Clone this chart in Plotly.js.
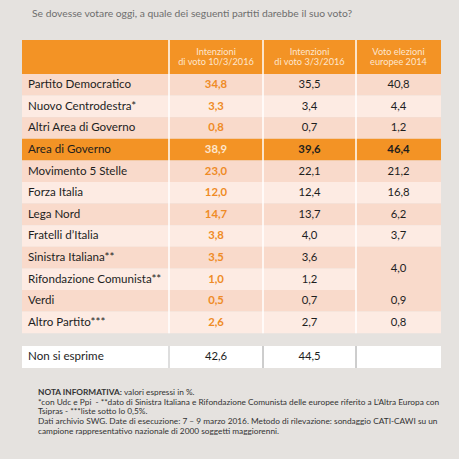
<!DOCTYPE html>
<html>
<head>
<meta charset="utf-8">
<script src="https://cdn.plot.ly/plotly-3.0.1.min.js"></script>
<style>html,body{margin:0;padding:0;background:#e5e2df;}#chart{width:459px;height:459px;}</style>
</head>
<body>
<div id="chart"></div>
<script>
// ---- data ----
const questionTitle = 'Se dovesse votare oggi, a quale dei seguenti partiti darebbe il suo voto?';
const columnHeaders = ['Intenzioni<br>di voto 10/3/2016', 'Intenzioni<br>di voto 3/3/2016', 'Voto elezioni<br>europee 2014'];
const parties = ['Partito Democratico', 'Nuovo Centrodestra*', 'Altri Area di Governo', 'Area di Governo',
  'Movimento 5 Stelle', 'Forza Italia', 'Lega Nord', 'Fratelli d\u2019Italia', 'Sinistra Italiana**',
  'Rifondazione Comunista**', 'Verdi', 'Altro Partito***'];
const vote_10_3_2016 = [34.8, 3.3, 0.8, 38.9, 23.0, 12.0, 14.7, 3.8, 3.5, 1.0, 0.5, 2.6];
const vote_3_3_2016 = [35.5, 3.4, 0.7, 39.6, 22.1, 12.4, 13.7, 4.0, 3.6, 1.2, 0.7, 2.7];
const europee_2014 = [40.8, 4.4, 1.2, 46.4, 21.2, 16.8, 6.2, 3.7, 4.0, null, 0.9, 0.8]; // 4,0 shared by rows 8-9
const europee_merged_rows = [8, 9];
const highlightRow = 3;
const undecidedLabel = 'Non si esprime';
const undecidedValues = [42.6, 44.5, null];
const footnoteLines = [
  '<b>NOTA INFORMATIVA:</b> valori espressi in %.',
  '*con Udc e Ppi  - **dato di Sinistra Italiana e Rifondazione Comunista delle europee riferito a L\u2019Altra Europa con',
  'Tsipras - ***liste sotto lo 0,5%.',
  'Dati archivio SWG. Date di esecuzione: 7 \u2013 9 marzo 2016. Metodo di rilevazione: sondaggio CATI-CAWI su un',
  'campione rappresentativo nazionale di 2000 soggetti maggiorenni.'
];

// ---- layout geometry & styles ----
const G = {colEdges: [22, 169, 263, 356, 441], headTop: 40, headBot: 74, rowH: 21.6,
  nsTop: 346, nsBot: 368, labelX: 28, footX: 36, footY0: 392, footDy: 9.7};
const C = {bg: '#e5e2df', orange: '#f39325', orangeText: '#ef8b26', dark: '#f9dacb', light: '#fdebe3',
  headText: '#fde6cf', text: '#1e1e1e', sep: '#ffffff'};
const FONT = 'Lato, "Open Sans", sans-serif';
const LABEL_SIZE = 11.6, VALUE_SIZE = 11.3;
const fmt = v => (v === null || v === undefined) ? '' : v.toFixed(1).replace('.', ',');

const shapes = [];
const rect = (x0, x1, y0, y1, color) => shapes.push({type: 'rect', xref: 'x', yref: 'y',
  x0, x1, y0, y1, fillcolor: color, line: {width: 0}, layer: 'below'});
const vline = (x, y0, y1, color, w) => shapes.push({type: 'line', xref: 'x', yref: 'y', x0: x, x1: x, y0, y1,
  line: {color, width: w}, layer: 'below'});

const L = G.colEdges[0], R = G.colEdges[4];
rect(L, R, G.headTop, G.headBot, C.orange);
const rowTop = i => G.headBot + i * G.rowH;
const rowMid = i => rowTop(i) + G.rowH / 2 + 0.5;
const rowFill = i => i === highlightRow ? C.orange : ((i === 0 || i === 2 || i === 4 || i === 6 || i === 8 || i === 10) ? C.dark : C.light);
parties.forEach((p, i) => {
  rect(L, G.colEdges[3], rowTop(i), rowTop(i) + G.rowH, rowFill(i));
  if (i === europee_merged_rows[1]) return;
  const span = i === europee_merged_rows[0] ? europee_merged_rows.length : 1;
  rect(G.colEdges[3], R, rowTop(i), rowTop(i) + span * G.rowH, rowFill(i));
});
const bodyBot = rowTop(parties.length);
for (let k = 1; k < 4; k++) vline(G.colEdges[k], G.headTop, bodyBot, C.sep, 1.5);
rect(L, R, G.nsTop, G.nsBot, '#ffffff');
for (let k = 2; k < 4; k++) vline(G.colEdges[k], G.nsTop, G.nsBot, '#9c9c9c', 1);
vline(G.colEdges[1], G.nsTop, G.nsBot, '#bdbdbd', 1);

const colMid = k => (G.colEdges[k] + G.colEdges[k + 1]) / 2;
const traces = [];
traces.push({type: 'scatter', mode: 'text', x: parties.map(() => G.labelX), y: parties.map((p, i) => rowMid(i)),
  text: parties, textposition: 'middle right', hoverinfo: 'skip',
  textfont: {family: FONT, size: LABEL_SIZE, color: C.text}});
traces.push({type: 'scatter', mode: 'text', x: vote_10_3_2016.map(() => colMid(1)), y: vote_10_3_2016.map((v, i) => rowMid(i)),
  text: vote_10_3_2016.map(v => '<b>' + fmt(v) + '</b>'), textposition: 'middle center', hoverinfo: 'skip',
  textfont: {family: FONT, size: VALUE_SIZE, color: vote_10_3_2016.map((v, i) => i === highlightRow ? C.headText : C.orangeText)}});
traces.push({type: 'scatter', mode: 'text', x: vote_3_3_2016.map(() => colMid(2)), y: vote_3_3_2016.map((v, i) => rowMid(i)),
  text: vote_3_3_2016.map((v, i) => i === highlightRow ? '<b>' + fmt(v) + '</b>' : fmt(v)), textposition: 'middle center', hoverinfo: 'skip',
  textfont: {family: FONT, size: VALUE_SIZE, color: C.text}});
traces.push({type: 'scatter', mode: 'text', x: europee_2014.map(() => colMid(3)),
  y: europee_2014.map((v, i) => i === europee_merged_rows[0] ? rowTop(i) + G.rowH * europee_merged_rows.length / 2 + 0.5 : rowMid(i)),
  text: europee_2014.map((v, i) => i === highlightRow ? '<b>' + fmt(v) + '</b>' : fmt(v)), textposition: 'middle center', hoverinfo: 'skip',
  textfont: {family: FONT, size: VALUE_SIZE, color: C.text}});
const h1 = columnHeaders.map(h => h.split('<br>')[0]);
const h2 = columnHeaders.map(h => h.split('<br>')[1]);
traces.push({type: 'scatter', mode: 'text', x: [1, 2, 3].map(colMid), y: [1, 2, 3].map(() => 52.5),
  text: h1, textposition: 'middle center', hoverinfo: 'skip', textfont: {family: FONT, size: 9.2, color: C.headText}});
traces.push({type: 'scatter', mode: 'text', x: [1, 2, 3].map(colMid), y: [1, 2, 3].map(() => 63),
  text: h2, textposition: 'middle center', hoverinfo: 'skip', textfont: {family: FONT, size: 9.2, color: C.headText}});
const nsMid = (G.nsTop + G.nsBot) / 2 + 0.5;
traces.push({type: 'scatter', mode: 'text', x: [G.labelX], y: [nsMid], text: [undecidedLabel], textposition: 'middle right',
  hoverinfo: 'skip', textfont: {family: FONT, size: LABEL_SIZE, color: C.text}});
traces.push({type: 'scatter', mode: 'text', x: [1, 2, 3].map(colMid), y: [1, 2, 3].map(() => nsMid),
  text: undecidedValues.map(fmt), textposition: 'middle center', hoverinfo: 'skip',
  textfont: {family: FONT, size: VALUE_SIZE, color: C.text}});

const annotations = [
  {xref: 'x', yref: 'y', x: 30, y: 13, text: questionTitle, showarrow: false, xanchor: 'left', yanchor: 'middle',
    font: {family: FONT, size: 10.3, color: '#6e6e6e'}}
];
footnoteLines.forEach((t, i) => annotations.push({xref: 'x', yref: 'y', x: G.footX, y: G.footY0 + i * G.footDy, text: t,
  showarrow: false, xanchor: 'left', yanchor: 'middle', align: 'left', font: {family: FONT, size: 8.3, color: '#333333'}}));

const layout = {
  width: 459, height: 459, margin: {l: 0, r: 0, t: 0, b: 0},
  paper_bgcolor: C.bg, plot_bgcolor: C.bg, showlegend: false,
  xaxis: {range: [0, 459], visible: false, fixedrange: true},
  yaxis: {range: [459, 0], visible: false, fixedrange: true},
  shapes, annotations
};
Plotly.newPlot('chart', traces, layout, {displayModeBar: false, staticPlot: true});
</script>
</body>
</html>
